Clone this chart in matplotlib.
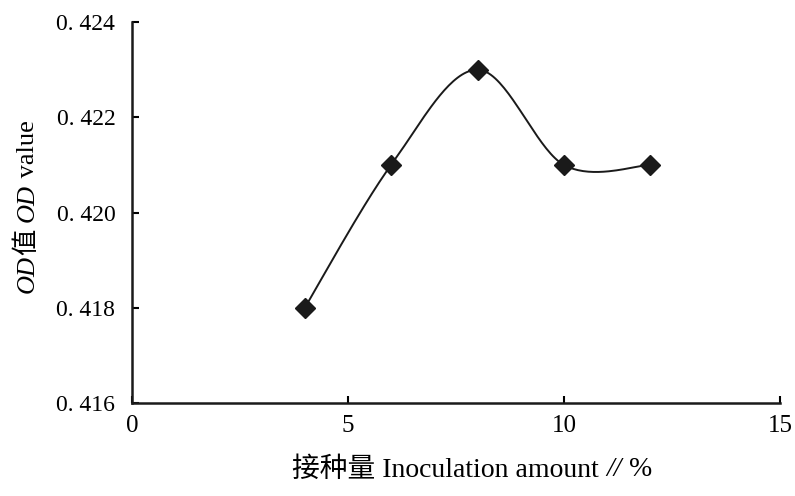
import numpy as np
import matplotlib
matplotlib.use('Agg')
import matplotlib.pyplot as plt

## data
inoculation = [4, 6, 8, 10, 12]
od_value = [0.418, 0.421, 0.423, 0.421, 0.421]
x_ticks = [0, 5, 10, 15]
y_ticks = [0.416, 0.418, 0.420, 0.422, 0.424]
y_tick_labels = ['0. 416', '0. 418', '0. 420', '0. 422', '0. 424']

serif = ['Liberation Serif', 'Noto Sans CJK SC']
plt.rcParams['font.family'] = serif


def catmull_rom(xs, ys, n=40):
    # excel-style smoothed line through the points
    px = [xs[0]] + list(xs) + [xs[-1]]
    py = [ys[0]] + list(ys) + [ys[-1]]
    out_x, out_y = [], []
    t = np.linspace(0, 1, n)
    for i in range(1, len(px) - 2):
        x0, x1, x2, x3 = px[i - 1], px[i], px[i + 1], px[i + 2]
        y0, y1, y2, y3 = py[i - 1], py[i], py[i + 1], py[i + 2]
        # bezier control points
        cx1, cy1 = x1 + (x2 - x0) / 6, y1 + (y2 - y0) / 6
        cx2, cy2 = x2 - (x3 - x1) / 6, y2 - (y3 - y1) / 6
        bx = (1 - t) ** 3 * x1 + 3 * (1 - t) ** 2 * t * cx1 + 3 * (1 - t) * t ** 2 * cx2 + t ** 3 * x2
        by = (1 - t) ** 3 * y1 + 3 * (1 - t) ** 2 * t * cy1 + 3 * (1 - t) * t ** 2 * cy2 + t ** 3 * y2
        out_x.extend(bx)
        out_y.extend(by)
    return out_x, out_y


fig = plt.figure(figsize=(7.95, 4.96), dpi=100)
ax = fig.add_axes([0.166, 0.1875, 0.815, 0.768])

sx, sy = catmull_rom(inoculation, od_value)
ax.plot(sx, sy, color='#1a1a1a', linewidth=1.4)
ax.plot(inoculation, od_value, linestyle='none', marker='D', markersize=10.5, color='#1a1a1a')

ax.set_xlim(0, 15)
ax.set_ylim(0.416, 0.424)
ax.set_xticks(x_ticks)
ax.set_yticks(y_ticks)
ax.set_yticklabels(y_tick_labels)
ax.tick_params(direction='in', length=5, width=1.5, labelsize=18)
ax.tick_params(axis='y', pad=12, labelsize=17)
ax.tick_params(axis='x', pad=9)
for s in ['top', 'right']:
    ax.spines[s].set_visible(False)
for s in ['left', 'bottom']:
    ax.spines[s].set_linewidth(1.8)
    ax.spines[s].set_color('#1a1a1a')

fig.canvas.draw()
renderer = fig.canvas.get_renderer()


def place_pieces(pieces, x0, y0, vertical, size):
    # lay out mixed-style text pieces one after another (pixel coords)
    pos = 0.0
    texts = []
    for txt, style in pieces:
        if vertical:
            t = fig.text(x0, y0 + pos, txt, transform=None, rotation=90, fontsize=size,
                         style=style, ha='center', va='bottom', family=serif)
        else:
            t = fig.text(x0 + pos, y0, txt, transform=None, fontsize=size,
                         style=style, ha='left', va='center', family=serif)
        bb = t.get_window_extent(renderer)
        pos += bb.height if vertical else bb.width
        texts.append(t)
    # centre the whole label
    shift = pos / 2
    for t in texts:
        x, y = t.get_position()
        if vertical:
            t.set_position((x, y - shift))
        else:
            t.set_position((x - shift, y))


ylabel = [('OD', 'italic'), ('值 ', 'normal'), ('OD', 'italic'), (' value', 'normal')]
place_pieces(ylabel, 28, 496 - 207, True, 19)

xlabel = [('接种量 Inoculation amount ', 'normal'), ('//', 'italic'), (' %', 'normal')]
place_pieces(xlabel, 472, 496 - 470, False, 20)

fig.savefig('out.png', dpi=100)
